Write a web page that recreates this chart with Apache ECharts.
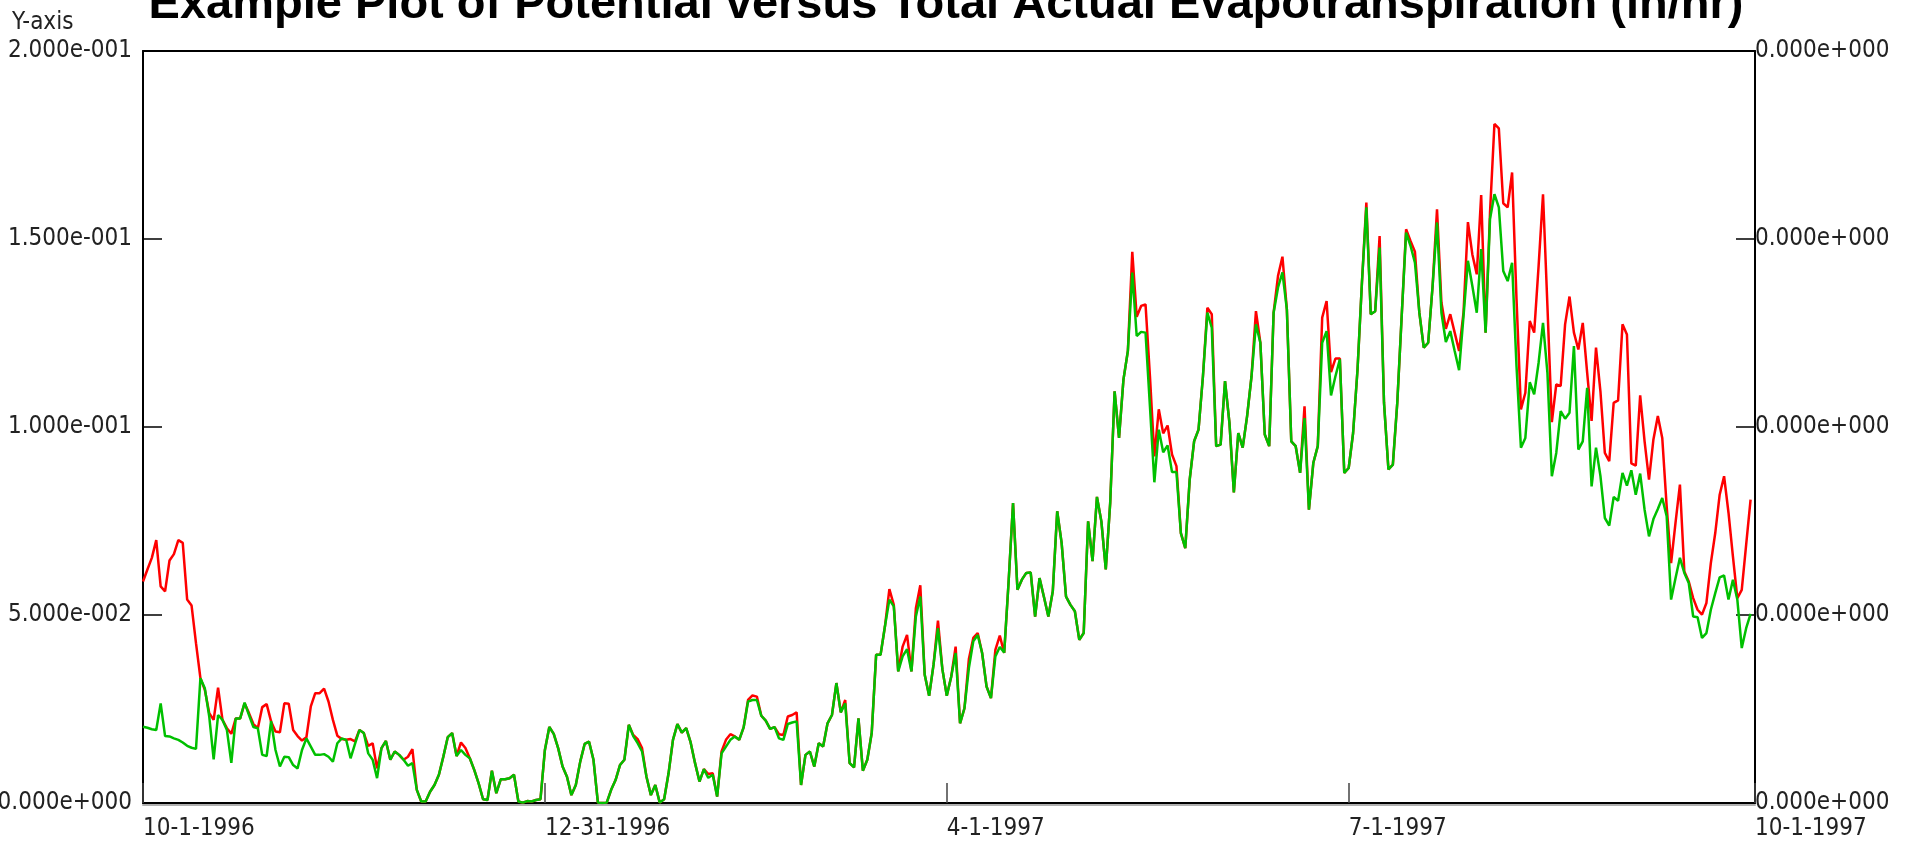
<!DOCTYPE html>
<html>
<head>
<meta charset="utf-8">
<script src="https://cdn.jsdelivr.net/npm/echarts@6/dist/echarts.min.js"></script>
<style>
html,body{margin:0;padding:0;background:#ffffff;}
#chart{width:1914px;height:850px;}
</style>
</head>
<body>
<div id="chart"></div>
<script>
// ---- data (daily values, 10-1-1996 .. 9-30-1997), in/hr ----
const titleText = 'Example Plot of Potential versus Total Actual Evapotranspiration (in/hr)';
const yAxisName = 'Y-axis';

const potentialET = [
0.0589,0.0621,0.0652,0.0699,0.0576,0.0563,0.0645,0.0662,0.0699,0.0692,
0.0541,0.0525,0.0425,0.0332,0.0301,0.0239,0.0221,0.0307,0.0221,0.0199,
0.0184,0.0225,0.0225,0.0265,0.0239,0.0210,0.0199,0.0255,0.0263,0.0217,
0.0190,0.0188,0.0265,0.0264,0.0194,0.0178,0.0166,0.0175,0.0257,0.0292,
0.0292,0.0304,0.0270,0.0221,0.0179,0.0170,0.0168,0.0170,0.0164,0.0194,
0.0186,0.0152,0.0159,0.0092,0.0146,0.0165,0.0115,0.0137,0.0128,0.0115,
0.0123,0.0143,0.0035,0.0004,0.0004,0.0030,0.0048,0.0075,0.0123,0.0175,
0.0186,0.0125,0.0161,0.0146,0.0119,0.0088,0.0052,0.0010,0.0008,0.0086,
0.0026,0.0063,0.0063,0.0066,0.0075,0.0004,0.0001,0.0005,0.0004,0.0008,
0.0010,0.0141,0.0202,0.0184,0.0146,0.0097,0.0070,0.0021,0.0048,0.0110,
0.0157,0.0163,0.0115,0.0001,0.0000,0.0001,0.0035,0.0061,0.0101,0.0115,
0.0208,0.0181,0.0170,0.0146,0.0070,0.0021,0.0048,0.0001,0.0010,0.0079,
0.0168,0.0210,0.0187,0.0199,0.0161,0.0106,0.0057,0.0090,0.0077,0.0079,
0.0017,0.0137,0.0168,0.0183,0.0177,0.0168,0.0201,0.0274,0.0286,0.0283,
0.0232,0.0219,0.0197,0.0202,0.0183,0.0181,0.0230,0.0234,0.0241,0.0048,
0.0128,0.0137,0.0097,0.0159,0.0150,0.0212,0.0234,0.0319,0.0241,0.0274,
0.0106,0.0095,0.0225,0.0086,0.0115,0.0186,0.0394,0.0394,0.0470,0.0569,
0.0527,0.0350,0.0416,0.0447,0.0350,0.0518,0.0579,0.0341,0.0285,0.0368,
0.0485,0.0356,0.0285,0.0336,0.0416,0.0212,0.0252,0.0383,0.0439,0.0452,
0.0399,0.0310,0.0279,0.0407,0.0445,0.0399,0.0589,0.0798,0.0567,0.0594,
0.0612,0.0613,0.0496,0.0598,0.0548,0.0496,0.0563,0.0776,0.0692,0.0549,
0.0527,0.0510,0.0434,0.0452,0.0749,0.0643,0.0814,0.0749,0.0621,0.0798,
0.1095,0.0971,0.1126,0.1202,0.1466,0.1293,0.1322,0.1326,0.1135,0.0922,
0.1047,0.0983,0.1004,0.0927,0.0896,0.0718,0.0678,0.0860,0.0962,0.0993,
0.1135,0.1317,0.1300,0.0949,0.0953,0.1122,0.1011,0.0826,0.0984,0.0945,
0.1029,0.1135,0.1308,0.1224,0.0980,0.0949,0.1304,0.1402,0.1453,0.1313,
0.0962,0.0949,0.0878,0.1055,0.0780,0.0905,0.0949,0.1291,0.1335,0.1146,
0.1182,0.1182,0.0878,0.0891,0.0984,0.1153,0.1384,0.1597,0.1300,0.1308,
0.1508,0.1064,0.0887,0.0900,0.1064,0.1295,0.1526,0.1495,0.1466,0.1304,
0.1211,0.1224,0.1375,0.1579,0.1331,0.1261,0.1300,0.1251,0.1202,0.1304,
0.1545,0.1459,0.1406,0.1617,0.1251,0.1570,0.1806,0.1794,0.1595,0.1584,
0.1677,0.1340,0.1047,0.1091,0.1282,0.1251,0.1428,0.1619,0.1322,0.1013,
0.1113,0.1109,0.1273,0.1347,0.1251,0.1206,0.1277,0.1144,0.1016,0.1211,
0.1095,0.0931,0.0909,0.1064,0.1071,0.1273,0.1246,0.0903,0.0897,0.1084,
0.0962,0.0860,0.0967,0.1029,0.0971,0.0789,0.0638,0.0745,0.0847,0.0616,
0.0589,0.0545,0.0514,0.0501,0.0532,0.0638,0.0718,0.0820,0.0869,0.0772,
0.0656,0.0545,0.0567,0.0687,0.0807
];

const actualET = [
0.0203,0.0200,0.0196,0.0194,0.0265,0.0178,0.0177,0.0172,0.0168,0.0161,
0.0152,0.0147,0.0144,0.0332,0.0305,0.0230,0.0116,0.0234,0.0221,0.0194,
0.0107,0.0225,0.0225,0.0267,0.0234,0.0202,0.0199,0.0128,0.0125,0.0218,
0.0141,0.0097,0.0123,0.0122,0.0101,0.0092,0.0141,0.0172,0.0150,0.0128,
0.0128,0.0130,0.0123,0.0110,0.0159,0.0172,0.0168,0.0119,0.0157,0.0194,
0.0186,0.0132,0.0115,0.0066,0.0146,0.0165,0.0115,0.0137,0.0128,0.0115,
0.0099,0.0106,0.0035,0.0004,0.0004,0.0030,0.0048,0.0075,0.0123,0.0175,
0.0186,0.0125,0.0141,0.0128,0.0119,0.0088,0.0052,0.0010,0.0008,0.0086,
0.0026,0.0063,0.0063,0.0066,0.0075,0.0004,0.0001,0.0005,0.0004,0.0008,
0.0010,0.0141,0.0202,0.0184,0.0146,0.0097,0.0070,0.0021,0.0048,0.0110,
0.0157,0.0163,0.0115,0.0001,0.0000,0.0001,0.0035,0.0061,0.0101,0.0115,
0.0208,0.0178,0.0159,0.0137,0.0070,0.0021,0.0048,0.0001,0.0010,0.0079,
0.0168,0.0210,0.0187,0.0199,0.0161,0.0106,0.0057,0.0090,0.0067,0.0075,
0.0017,0.0132,0.0150,0.0168,0.0177,0.0168,0.0201,0.0270,0.0274,0.0274,
0.0232,0.0219,0.0197,0.0202,0.0172,0.0168,0.0210,0.0214,0.0217,0.0048,
0.0128,0.0137,0.0097,0.0159,0.0150,0.0212,0.0234,0.0319,0.0241,0.0265,
0.0106,0.0095,0.0225,0.0086,0.0115,0.0186,0.0394,0.0394,0.0470,0.0541,
0.0523,0.0350,0.0390,0.0409,0.0350,0.0496,0.0549,0.0341,0.0285,0.0368,
0.0465,0.0356,0.0285,0.0336,0.0399,0.0212,0.0252,0.0359,0.0430,0.0447,
0.0399,0.0310,0.0279,0.0390,0.0415,0.0400,0.0589,0.0798,0.0567,0.0594,
0.0612,0.0613,0.0496,0.0598,0.0548,0.0496,0.0563,0.0776,0.0692,0.0549,
0.0527,0.0510,0.0434,0.0452,0.0749,0.0643,0.0814,0.0749,0.0621,0.0798,
0.1095,0.0971,0.1126,0.1202,0.1411,0.1242,0.1253,0.1251,0.1055,0.0853,
0.0993,0.0933,0.0951,0.0880,0.0880,0.0718,0.0678,0.0860,0.0962,0.0993,
0.1135,0.1304,0.1264,0.0949,0.0953,0.1122,0.1011,0.0826,0.0984,0.0945,
0.1029,0.1135,0.1273,0.1224,0.0980,0.0949,0.1304,0.1371,0.1411,0.1313,
0.0962,0.0949,0.0878,0.1024,0.0780,0.0905,0.0949,0.1224,0.1255,0.1084,
0.1135,0.1180,0.0878,0.0891,0.0984,0.1153,0.1384,0.1584,0.1300,0.1308,
0.1477,0.1064,0.0887,0.0900,0.1064,0.1295,0.1517,0.1482,0.1437,0.1304,
0.1211,0.1224,0.1375,0.1544,0.1304,0.1226,0.1255,0.1202,0.1151,0.1295,
0.1442,0.1375,0.1304,0.1473,0.1251,0.1553,0.1619,0.1584,0.1415,0.1388,
0.1437,0.1162,0.0945,0.0971,0.1119,0.1087,0.1171,0.1277,0.1144,0.0869,
0.0931,0.1042,0.1022,0.1038,0.1215,0.0940,0.0962,0.1104,0.0842,0.0945,
0.0870,0.0758,0.0738,0.0814,0.0804,0.0878,0.0844,0.0885,0.0820,0.0876,
0.0780,0.0709,0.0755,0.0782,0.0811,0.0763,0.0541,0.0598,0.0652,0.0612,
0.0585,0.0496,0.0494,0.0439,0.0452,0.0514,0.0558,0.0600,0.0605,0.0541,
0.0594,0.0541,0.0412,0.0465,0.0503
];

// x axis: day offset from 10-1-1996
const xTickDays   = [0, 91, 182, 273, 365];
const xTickLabels = ['10-1-1996', '12-31-1996', '4-1-1997', '7-1-1997', '10-1-1997'];
const yTickValues = [0, 0.05, 0.1, 0.15, 0.2];
const yTickLabels = ['0.000e+000', '5.000e-002', '1.000e-001', '1.500e-001', '2.000e-001'];
const y2TickLabels = ['0.000e+000', '0.000e+000', '0.000e+000', '0.000e+000', '0.000e+000'];

// ---- chart ----
const FONT = '"DejaVu Sans Condensed", "Liberation Sans Narrow", sans-serif';
const TITLE_FONT = '"Liberation Sans", Arial, sans-serif';
const LABEL_SIZE = 24;
const chart = echarts.init(document.getElementById('chart'), null, {renderer: 'canvas'});

const potPts = potentialET.map((v, i) => [i, v]);
const actPts = actualET.map((v, i) => [i, v]);

function yLabel(list) {
  return function (v) {
    for (let i = 0; i < yTickValues.length; i++) {
      if (Math.abs(yTickValues[i] - v) < 1e-9) return list[i];
    }
    return '';
  };
}

const option = {
  animation: false,
  backgroundColor: '#ffffff',
  title: [
    {
      text: titleText,
      left: 946,
      top: -18,
      padding: 0,
      textAlign: 'center',
      textStyle: {fontFamily: TITLE_FONT, fontWeight: 'bold', fontSize: 47, color: '#000'}
    },
    {
      text: yAxisName,
      left: 12,
      top: 11,
      padding: 0,
      textStyle: {fontFamily: FONT, fontWeight: 'normal', fontSize: LABEL_SIZE, color: '#222'}
    }
  ],
  grid: {left: 143, right: 159, top: 51, bottom: 47, containLabel: false, outerBoundsMode: 'none'},
  xAxis: [
    {
      type: 'value', min: 0, max: 365, position: 'bottom',
      axisLine: {show: true, onZero: false, lineStyle: {color: '#000', width: 2, shadowColor: '#b0b0b0', shadowOffsetY: 2, shadowBlur: 0}},
      axisTick: {show: true, inside: true, length: 20, customValues: xTickDays, lineStyle: {color: '#444', width: 1.5}},
      axisLabel: {
        show: true, customValues: xTickDays, margin: 14, align: 'left',
        fontFamily: FONT, fontSize: LABEL_SIZE, color: '#222',
        formatter: function (v) { const i = xTickDays.indexOf(v); return i >= 0 ? xTickLabels[i] : ''; }
      },
      splitLine: {show: false}
    },
    {
      type: 'value', min: 0, max: 365, position: 'top',
      axisLine: {show: true, onZero: false, lineStyle: {color: '#000', width: 2}},
      axisTick: {show: false}, axisLabel: {show: false}, splitLine: {show: false}
    }
  ],
  yAxis: [
    {
      type: 'value', min: 0, max: 0.2, interval: 0.05, position: 'left',
      axisLine: {show: true, onZero: false, lineStyle: {color: '#000', width: 2}},
      axisTick: {show: true, inside: true, length: 19, lineStyle: {color: '#000', width: 1.5}},
      axisLabel: {margin: 11, fontFamily: FONT, fontSize: LABEL_SIZE, color: '#222', formatter: yLabel(yTickLabels)},
      splitLine: {show: false}
    },
    {
      type: 'value', min: 0, max: 0.2, interval: 0.05, position: 'right',
      axisLine: {show: true, onZero: false, lineStyle: {color: '#000', width: 2}},
      axisTick: {show: true, inside: true, length: 19, lineStyle: {color: '#000', width: 1.5}},
      axisLabel: {margin: 0, fontFamily: FONT, fontSize: LABEL_SIZE, color: '#222', formatter: yLabel(y2TickLabels)},
      splitLine: {show: false}
    }
  ],
  series: [
    {
      name: 'Potential ET', type: 'line', xAxisIndex: 0, yAxisIndex: 0,
      data: potPts, showSymbol: false, symbol: 'none',
      lineStyle: {color: '#ff0000', width: 2.5}, z: 2
    },
    {
      name: 'Total Actual ET', type: 'line', xAxisIndex: 0, yAxisIndex: 0,
      data: actPts, showSymbol: false, symbol: 'none',
      lineStyle: {color: '#00c000', width: 2.5}, z: 3
    }
  ]
};
chart.setOption(option);
</script>
</body>
</html>
